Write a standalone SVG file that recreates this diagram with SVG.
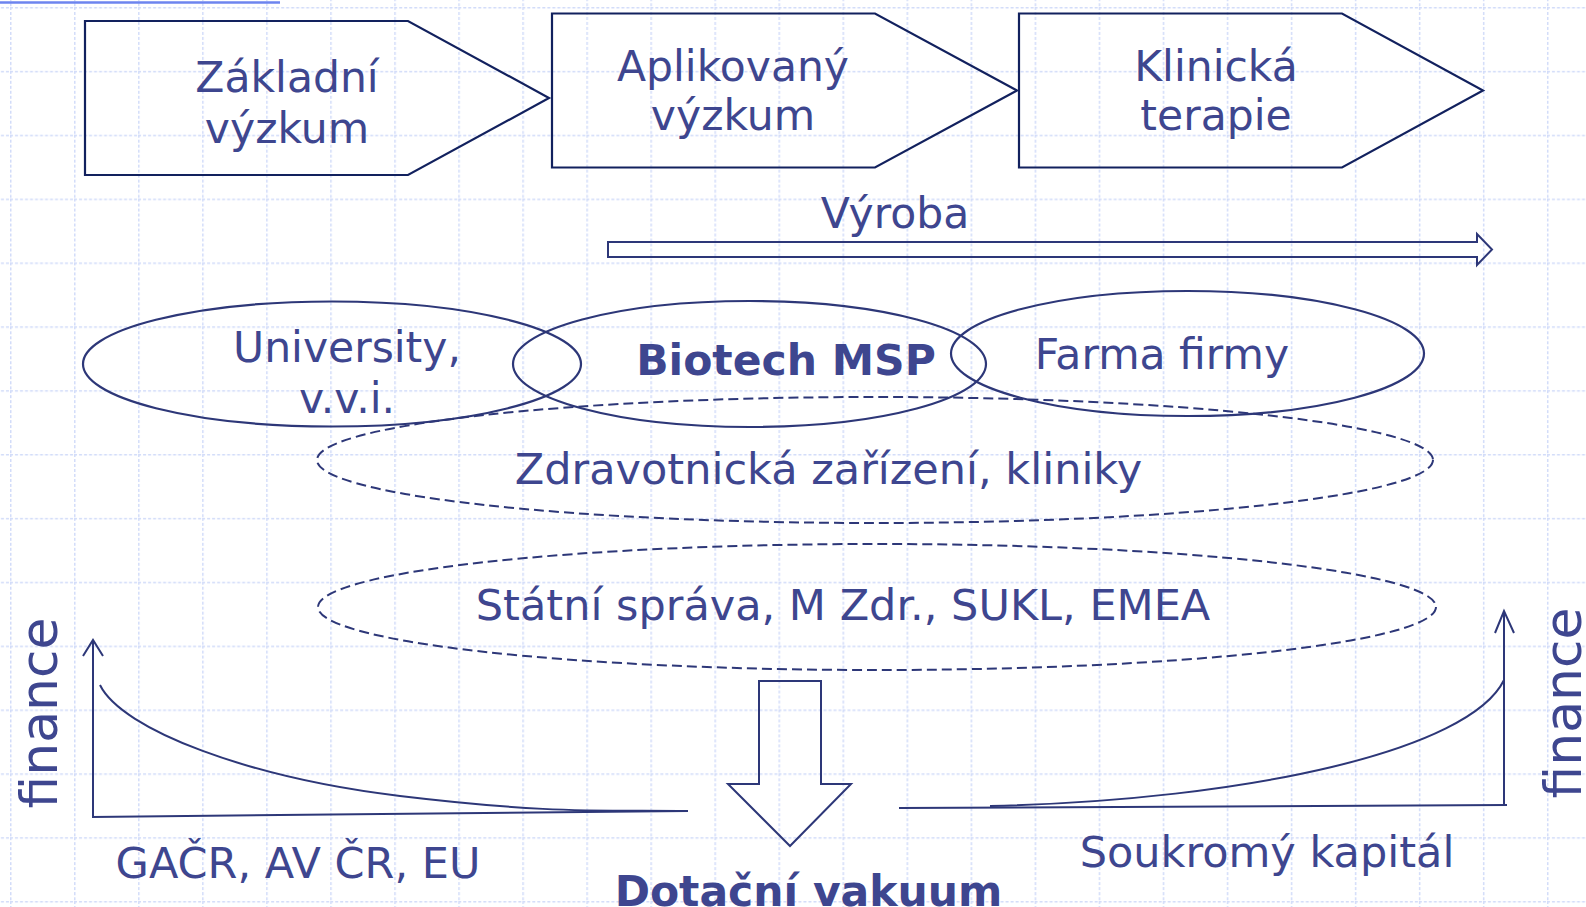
<svg xmlns="http://www.w3.org/2000/svg" width="1586" height="907" viewBox="0 0 1586 907">
<defs>
<pattern id="grid" patternUnits="userSpaceOnUse" x="10" y="7" width="64.04" height="63.86">
<path d="M0,0 V63.86 M0,0 H64.04" fill="none" stroke="#d2dcf9" stroke-width="3" stroke-dasharray="3 2"/>
</pattern>
</defs>
<style>
.t{font-family:"DejaVu Sans","Liberation Sans",sans-serif;font-size:42.5px;fill:#3e468f;text-anchor:middle}
.w{font-size:43px}
.b{font-weight:bold}
.chev{fill:none;stroke:#12215e;stroke-width:2.2}
.ell{fill:none;stroke:#2d3778;stroke-width:2.2}
.dash{fill:none;stroke:#2d3778;stroke-width:2;stroke-dasharray:10 5}
.ln{fill:none;stroke:#2d3778;stroke-width:2}
</style>
<rect width="1586" height="907" fill="#ffffff"/>
<rect width="1586" height="907" fill="url(#grid)"/>
<line x1="0" y1="2.5" x2="280" y2="2.5" stroke="#6d84ef" stroke-width="2.5"/>

<g id="zakladni">
<polygon class="chev" points="85,21 408,21 549,98 408,175 85,175"/>
<text class="t" x="287" y="92">Základní</text>
<text class="t" x="287" y="143">výzkum</text>
</g>
<g id="aplikovany">
<polygon class="chev" points="552,13.5 875,13.5 1017,90.5 875,167.5 552,167.5"/>
<text class="t" x="733" y="81">Aplikovaný</text>
<text class="t" x="733" y="130">výzkum</text>
</g>
<g id="klinicka">
<polygon class="chev" points="1019,13.5 1342,13.5 1483,90.5 1342,167.5 1019,167.5"/>
<text class="t" x="1216" y="81">Klinická</text>
<text class="t" x="1216" y="130">terapie</text>
</g>

<g id="vyroba">
<text class="t" x="895" y="228">Výroba</text>
<polygon class="ln" points="608,242 1477,242 1477,234 1492,249.5 1477,265 1477,257 608,257"/>
</g>

<g id="university">
<ellipse class="ell" cx="332" cy="364" rx="249" ry="62.5"/>
<text class="t" x="347" y="362">University,</text>
<text class="t" x="347" y="413">v.v.i.</text>
</g>
<g id="biotech">
<ellipse class="ell" cx="749.5" cy="364" rx="236.5" ry="63"/>
<text class="t b" x="786" y="375">Biotech MSP</text>
</g>
<g id="farma">
<ellipse class="ell" cx="1187.5" cy="353.5" rx="236.5" ry="62.5"/>
<text class="t" x="1162" y="369">Farma firmy</text>
</g>
<g id="zdravotnicka">
<ellipse class="dash" cx="875" cy="460" rx="558" ry="63"/>
<text class="t w" x="828.5" y="484">Zdravotnická zařízení, kliniky</text>
</g>
<g id="statni">
<ellipse class="dash" cx="877" cy="607" rx="559" ry="63"/>
<text class="t w" x="843" y="620">Státní správa, M Zdr., SUKL, EMEA</text>
</g>

<g id="left-chart">
<polyline class="ln" points="83,656 93,640 103,656"/>
<line class="ln" x1="93" y1="640" x2="93" y2="817.5"/>
<line class="ln" x1="92" y1="817" x2="688" y2="811"/>
<path class="ln" d="M100,685 C 122,730 250,778 400,796 S 600,810 688,811"/>
<text class="t w" x="298" y="878">GAČR, AV ČR, EU</text>
<text class="t" style="font-size:52px" transform="translate(57,713) rotate(-90)">finance</text>
</g>

<g id="dotacni">
<polygon class="ln" points="759,681 821,681 821,784 851,784 790,846 728,784 759,784"/>
<text class="t b" x="808.5" y="906">Dotační vakuum</text>
</g>

<g id="right-chart">
<polyline class="ln" points="1495,633 1504,611 1514,633"/>
<line class="ln" x1="1504" y1="611" x2="1504" y2="806"/>
<line class="ln" x1="899" y1="808" x2="1507" y2="805"/>
<path class="ln" d="M990,806 C 1250,800 1470,750 1504,680"/>
<text class="t w" x="1267" y="867">Soukromý kapitál</text>
<text class="t" style="font-size:52px" transform="translate(1581,703) rotate(-90)">finance</text>
</g>
</svg>
